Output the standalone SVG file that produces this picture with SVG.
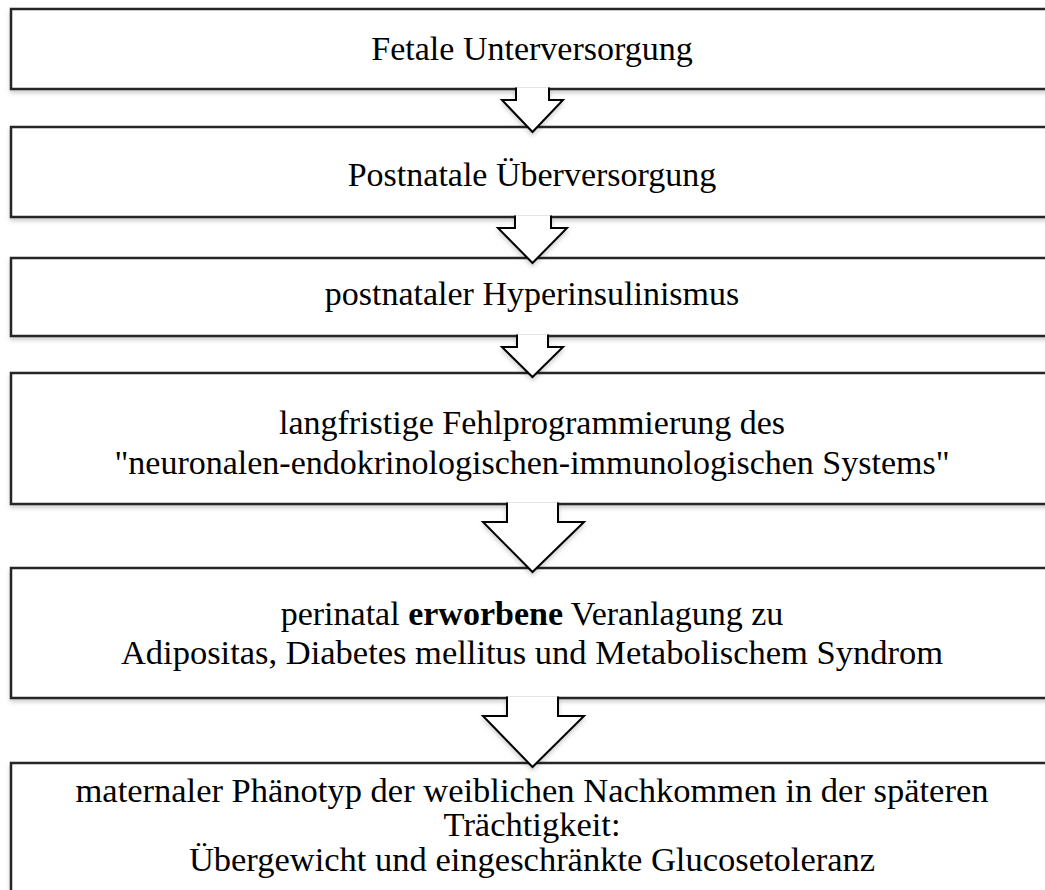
<svg xmlns="http://www.w3.org/2000/svg" width="1045" height="890" viewBox="0 0 1045 890">
<defs>
<filter id="sh" x="-5%" y="-10%" width="110%" height="130%">
<feDropShadow dx="0" dy="3" stdDeviation="2" flood-color="#000" flood-opacity="0.18"/>
</filter>
</defs>
<style>
.box{fill:#fff;stroke:#262626;stroke-width:2.5;filter:url(#sh)}
.arr{fill:#fff;stroke:#000;stroke-width:2;stroke-linejoin:miter;filter:url(#sh)}
text{font-family:"Liberation Serif","Times New Roman",serif;font-size:34px;fill:#000;text-anchor:middle}
.b{font-weight:bold}
.l{font-size:34.5px}
</style>
<g id="node1"><rect class="box" x="11" y="9" width="1060" height="80"/><text x="532" y="60">Fetale Unterversorgung</text></g>
<g id="node2"><rect class="box" x="11" y="127" width="1060" height="90"/><text x="532" y="186">Postnatale Überversorgung</text></g>
<g id="node3"><rect class="box" x="11" y="258" width="1060" height="78"/><text x="532" y="305">postnataler Hyperinsulinismus</text></g>
<g id="node4"><rect class="box" x="11" y="373" width="1060" height="131"/><text x="532" y="434">langfristige Fehlprogrammierung des</text><text x="532" y="474">"neuronalen-endokrinologischen-immunologischen Systems"</text></g>
<g id="node5"><rect class="box" x="11" y="568" width="1060" height="130"/><text x="532" y="625">perinatal <tspan class="b">erworbene</tspan> Veranlagung zu</text><text class="l" x="532" y="664">Adipositas, Diabetes mellitus und Metabolischem Syndrom</text></g>
<g id="node6"><rect class="box" x="11" y="763" width="1060" height="150"/><text class="l" x="532" y="802">maternaler Phänotyp der weiblichen Nachkommen in der späteren</text><text class="l" x="532" y="836">Trächtigkeit:</text><text class="l" x="532" y="871">Übergewicht und eingeschränkte Glucosetoleranz</text></g>
<g id="connectors">
<path class="arr" d="M516,87.5 V100 H502 L532.5,132 L563,100 H549 V87.5"/>
<path class="arr" d="M515,215.5 V228 H498 L532.5,263 L567,228 H551 V215.5"/>
<path class="arr" d="M517,334.5 V347 H502 L532.5,377 L563,347 H548 V334.5"/>
<path class="arr" d="M507,502.5 V522 H483 L532.5,572 L584,522 H558 V502.5"/>
<path class="arr" d="M507,696.5 V716 H483 L532.5,767 L584,716 H558 V696.5"/>
</g>
</svg>
